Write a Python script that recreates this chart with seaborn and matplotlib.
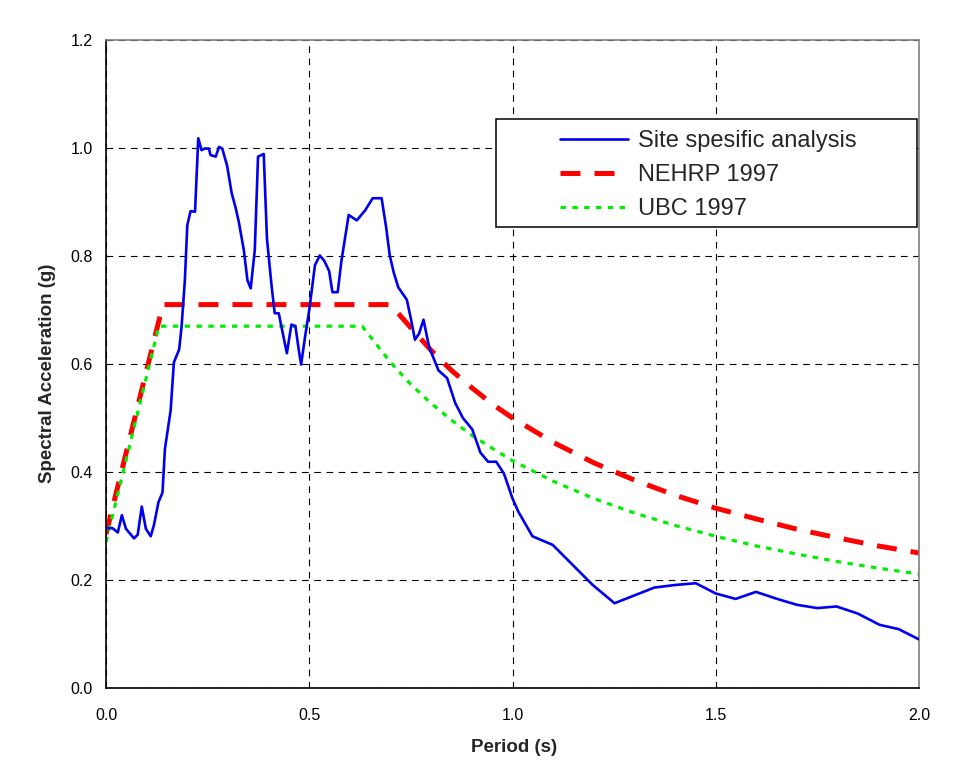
import matplotlib
matplotlib.use("Agg")

import matplotlib.pyplot as plt
import numpy as np
import pandas as pd
import seaborn as sns
from matplotlib.patches import Rectangle

# ── Data ──────────────────────────────────────────────────────────────────────
site_period = [0.000, 0.016, 0.029, 0.039, 0.049, 0.069, 0.078, 0.088, 0.098, 0.110,
               0.118, 0.129, 0.139, 0.145, 0.159, 0.167, 0.180, 0.186, 0.194, 0.200,
               0.208, 0.219, 0.227, 0.235, 0.243, 0.253, 0.257, 0.270, 0.278, 0.286,
               0.298, 0.309, 0.319, 0.327, 0.339, 0.348, 0.356, 0.366, 0.374, 0.388,
               0.396, 0.407, 0.415, 0.425, 0.437, 0.445, 0.456, 0.466, 0.474, 0.480,
               0.490, 0.500, 0.514, 0.526, 0.537, 0.549, 0.557, 0.570, 0.579, 0.597,
               0.617, 0.638, 0.656, 0.678, 0.689, 0.698, 0.708, 0.719, 0.740, 0.750,
               0.760, 0.770, 0.781, 0.795, 0.818, 0.839, 0.859, 0.878, 0.901, 0.921,
               0.940, 0.960, 0.979, 1.000, 1.014, 1.049, 1.099, 1.197, 1.251, 1.349,
               1.403, 1.451, 1.500, 1.549, 1.599, 1.651, 1.700, 1.750, 1.797, 1.849,
               1.903, 1.950, 2.000]
site_sa = [0.296, 0.296, 0.288, 0.320, 0.295, 0.277, 0.284, 0.336, 0.295, 0.281,
           0.302, 0.344, 0.362, 0.443, 0.514, 0.603, 0.627, 0.670, 0.755, 0.857,
           0.883, 0.882, 1.018, 0.996, 0.999, 0.999, 0.987, 0.984, 1.002, 0.999,
           0.967, 0.917, 0.889, 0.862, 0.811, 0.755, 0.740, 0.811, 0.984, 0.989,
           0.832, 0.747, 0.694, 0.694, 0.649, 0.620, 0.673, 0.670, 0.627, 0.599,
           0.652, 0.700, 0.783, 0.801, 0.791, 0.772, 0.733, 0.733, 0.790, 0.876,
           0.866, 0.885, 0.907, 0.907, 0.854, 0.801, 0.769, 0.742, 0.719, 0.684,
           0.645, 0.656, 0.682, 0.631, 0.588, 0.574, 0.528, 0.500, 0.479, 0.436,
           0.419, 0.419, 0.397, 0.351, 0.327, 0.281, 0.265, 0.191, 0.157, 0.186,
           0.191, 0.194, 0.175, 0.165, 0.178, 0.165, 0.154, 0.148, 0.151, 0.138,
           0.117, 0.109, 0.090]

nehrp_period = [0.00, 0.14, 0.70, 0.75, 0.80, 0.85, 0.90, 0.95, 1.00, 1.10,
                1.20, 1.30, 1.40, 1.50, 1.60, 1.70, 1.80, 1.90, 2.00]
nehrp_sa = [0.285, 0.710, 0.710, 0.667, 0.625, 0.588, 0.556, 0.526, 0.500, 0.455,
            0.417, 0.385, 0.357, 0.333, 0.313, 0.294, 0.278, 0.263, 0.250]

ubc_period = [0.00, 0.13, 0.63, 0.70, 0.75, 0.80, 0.85, 0.90, 0.95, 1.00,
              1.10, 1.20, 1.30, 1.40, 1.50, 1.60, 1.70, 1.80, 1.90, 2.00]
ubc_sa = [0.270, 0.670, 0.670, 0.603, 0.562, 0.527, 0.496, 0.468, 0.444, 0.421,
          0.383, 0.351, 0.324, 0.301, 0.281, 0.263, 0.248, 0.234, 0.222, 0.211]

x_ticks = [0.0, 0.5, 1.0, 1.5, 2.0]
y_ticks = [0.0, 0.2, 0.4, 0.6, 0.8, 1.0, 1.2]

# ── Style ─────────────────────────────────────────────────────────────────────
sns.set_style("white")
plt.rcParams["font.family"] = ["Liberation Sans", "DejaVu Sans"]

W, H = 958, 783
fig = plt.figure(figsize=(W / 100, H / 100), dpi=100)
ax = fig.add_axes([106 / W, 1 - 688 / H, (919 - 106) / W, (688 - 40) / H])

site = pd.DataFrame({"period": site_period, "sa": site_sa})
nehrp = pd.DataFrame({"period": nehrp_period, "sa": nehrp_sa})
ubc = pd.DataFrame({"period": ubc_period, "sa": ubc_sa})

sns.lineplot(data=site, x="period", y="sa", ax=ax, color="#0000EE", lw=1.9,
             label="Site spesific analysis", sort=False, zorder=3)
sns.lineplot(data=nehrp, x="period", y="sa", ax=ax, color="#FF0000", lw=3.6,
             linestyle=(0, (4, 2.8)), label="NEHRP 1997", sort=False, zorder=2)
sns.lineplot(data=ubc, x="period", y="sa", ax=ax, color="#00EE00", lw=2.3,
             linestyle=(0, (1.7, 2.0)), label="UBC 1997", sort=False, zorder=2)

ax.set_xlim(0, 2.0)
ax.set_ylim(0, 1.2)
ax.set_xticks(x_ticks)
ax.set_yticks(y_ticks)
ax.set_xticklabels([f"{v:.1f}" for v in x_ticks])
ax.set_yticklabels([f"{v:.1f}" for v in y_ticks])
ax.tick_params(axis="both", direction="inout", length=7, width=1, colors="black",
               labelsize=11.5)
ax.tick_params(axis="x", pad=11)
ax.tick_params(axis="y", pad=6)

ax.grid(True, color="black", lw=0.8, linestyle=(0, (6, 5)))
for s in ["left", "bottom"]:
    ax.spines[s].set_color("black")
    ax.spines[s].set_linewidth(1.2)
for s in ["top", "right"]:
    ax.spines[s].set_color("#808080")
    ax.spines[s].set_linewidth(1.2)

ax.set_xlabel("Period (s)", fontsize=13.5, fontweight="bold")
ax.set_ylabel("Spectral Acceleration (g)", fontsize=13.5, fontweight="bold")
ax.xaxis.set_label_coords(0.502, -0.079)
ax.yaxis.set_label_coords(-0.062, 0.486)

# legend box (white, framed) drawn by hand so its padding matches
box = Rectangle((496 / W, 1 - 227 / H), (917 - 496) / W, (227 - 119) / H,
                transform=fig.transFigure, facecolor="white", edgecolor="black",
                lw=1.1, zorder=4, clip_on=False)
ax.add_patch(box)
leg = ax.legend(loc="upper left", bbox_to_anchor=(548 / W, 1 - 118 / H),
                bbox_transform=fig.transFigure, frameon=False, fontsize=17,
                borderpad=0, handlelength=2.9, handletextpad=0.4,
                labelspacing=0.52)
leg.set_zorder(5)

fig.savefig("out.png", dpi=100, facecolor="white")
